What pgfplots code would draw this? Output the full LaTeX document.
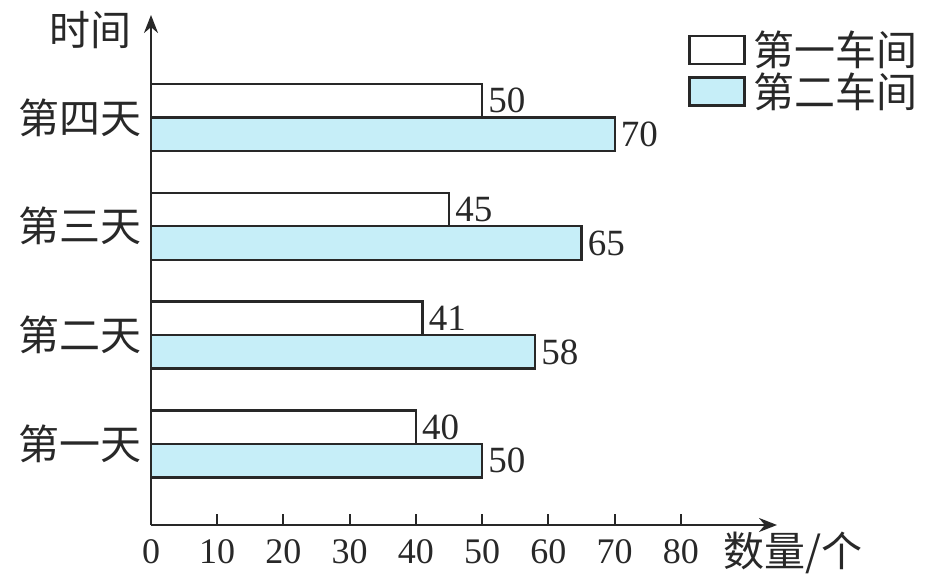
\documentclass[border=0pt]{standalone}
\usepackage{fontspec}
\setmainfont{Liberation Serif}
\newfontfamily\cjk{Noto Sans CJK SC}
\usepackage{pgfplots}
\pgfplotsset{compat=1.18}
\usetikzlibrary{arrows.meta}
\definecolor{barblue}{RGB}{198,238,248}
\definecolor{ink}{RGB}{40,40,40}
\begin{document}
\begin{tikzpicture}
\useasboundingbox (0,0) rectangle (468pt,292pt);
\begin{axis}[
  at={(75.5pt,29.5pt)}, anchor=south west,
  scale only axis, width=313pt, height=255pt,
  xmin=0, xmax=94.5, ymin=0.257, ymax=4.94,
  axis lines=left,
  axis line style={ink, line width=1.2pt, -{Stealth[length=9pt,width=7pt]}},
  xtick={0,10,...,80},
  tick align=inside, major tick length=5.5pt,
  xtick style={ink, line width=1pt},
  ytick={1,2,3,4}, yticklabels={第一天,第二天,第三天,第四天},
  ytick style={draw=none},
  yticklabel style={font=\cjk\fontsize{20.5}{24}\selectfont, text=ink, xshift=4.5pt},
  xticklabel style={font=\fontsize{18}{21}\selectfont, text=ink, yshift=-3.5pt},
  /pgf/number format/assume math mode=true,
  xlabel={数量/个},
  xlabel style={at={(axis description cs:1.0256,0)}, anchor=center, yshift=-14pt, font=\cjk\fontsize{20.5}{24}\selectfont, text=ink},
  ylabel={时间},
  ylabel style={at={(axis description cs:-0.097,0.971)}, anchor=center, rotate=-90, font=\cjk\fontsize{20.5}{24}\selectfont, text=ink},
  xbar, bar width=16.75pt,
  nodes near coords,
  nodes near coords style={font=\fontsize{18.5}{22}\selectfont, anchor=west, inner sep=2.5pt, text=ink},
  legend style={at={(axis description cs:0.848,0.985)}, anchor=north west, draw=none, fill=none,
    font=\cjk\fontsize{20.5}{24}\selectfont, text=ink, row sep=-2pt,
    nodes={inner xsep=4pt}},
  legend cell align=left,
  legend image code/.code={\draw[#1, line width=1.2pt] (0pt,-7pt) rectangle (27.5pt,7pt);},
]
\addplot[draw=ink, fill=white, line width=1.2pt, bar shift=8.375pt] coordinates {(40,1) (41,2) (45,3) (50,4)};
\addlegendentry{第一车间}
\addplot[draw=ink, fill=barblue, line width=1.2pt, bar shift=-8.375pt] coordinates {(50,1) (58,2) (65,3) (70,4)};
\addlegendentry{第二车间}
\end{axis}
\end{tikzpicture}
\end{document}
